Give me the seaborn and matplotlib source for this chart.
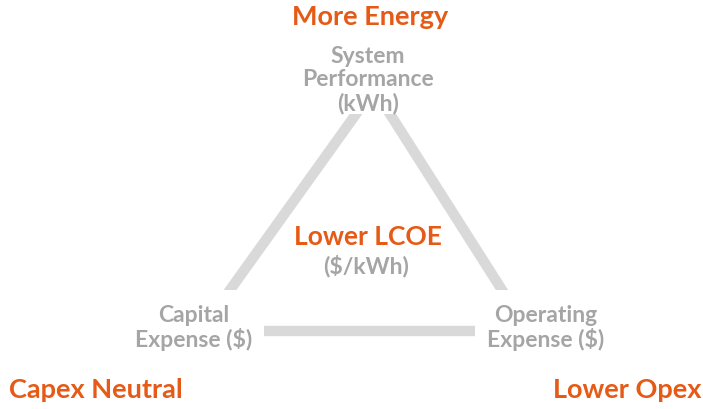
import pandas as pd
import matplotlib.pyplot as plt
import matplotlib.patches as mpatches
import seaborn as sns

sns.set_theme(style="white")
plt.rcParams['font.family'] = ['Lato', 'DejaVu Sans']

# Diagram content
corner_labels = ["System\nPerformance\n(kWh)", "Capital\nExpense ($)", "Operating\nExpense ($)"]
outcome_labels = ["More Energy", "Capex Neutral", "Lower Opex"]
center_title = "Lower LCOE"
center_unit = "($/kWh)"

# triangle edges (pixel space of the 703x410 canvas)
edges = pd.DataFrame({
    "edge": ["left", "left", "right", "right", "bottom", "bottom"],
    "x": [356, 230, 390, 502, 264, 475],
    "y": [115, 291, 115, 291, 332, 332],
})

orange = "#E55A16"
gray_text = "#A5A5A5"
gray_line = "#D9D9D9"

fig, ax = plt.subplots(figsize=(7.03, 4.10), dpi=100)
fig.subplots_adjust(0, 0, 1, 1)

for name, grp in edges.groupby("edge"):
    n_before = len(ax.lines)
    sns.lineplot(data=grp, x="x", y="y", color=gray_line, linewidth=7.5,
                 estimator=None, sort=False, ax=ax,
                 solid_capstyle="butt" if name == "bottom" else "projecting")
    if name != "bottom":
        # flat horizontal ends on the slanted sides
        clip = mpatches.Rectangle((0, grp["y"].min()), 703, grp["y"].max() - grp["y"].min(),
                                  transform=ax.transData, visible=False)
        ax.add_patch(clip)
        for ln in ax.lines[n_before:]:
            ln.set_clip_path(clip)

ax.set_xlim(0, 703)
ax.set_ylim(410, 0)
ax.set_axis_off()

big = 19.5
small = 16.5

# outcomes
ax.text(370, 17, outcome_labels[0], color=orange, fontsize=big, fontweight="bold",
        ha="center", va="center")
ax.text(9, 390, outcome_labels[1], color=orange, fontsize=big, fontweight="bold",
        ha="left", va="center")
ax.text(701, 390, outcome_labels[2], color=orange, fontsize=big, fontweight="bold",
        ha="right", va="center")

# corners
ax.text(368, 80, corner_labels[0], color=gray_text, fontsize=small, fontweight="bold",
        ha="center", va="center", linespacing=1.15)
ax.text(194, 328, corner_labels[1], color=gray_text, fontsize=small, fontweight="bold",
        ha="center", va="center", linespacing=1.15)
ax.text(546, 328, corner_labels[2], color=gray_text, fontsize=small, fontweight="bold",
        ha="center", va="center", linespacing=1.15)

# centre
ax.text(368, 237, center_title, color=orange, fontsize=19, fontweight="bold",
        ha="center", va="center")
ax.text(366, 266, center_unit, color=gray_text, fontsize=small, fontweight="bold",
        ha="center", va="center")

plt.savefig("out.png", dpi=100)
